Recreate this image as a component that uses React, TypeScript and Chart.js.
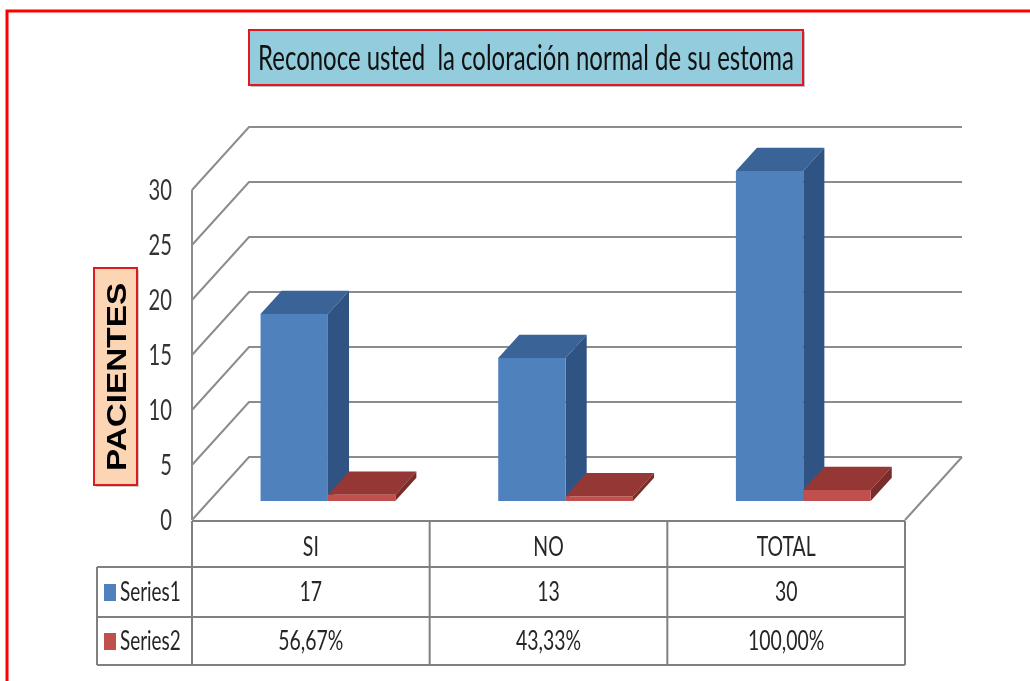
import React, { useEffect, useRef } from 'react';
import { Chart, registerables } from 'chart.js';

Chart.register(...registerables);

const CATEGORIES = ['SI', 'NO', 'TOTAL'];
const SERIES_NAMES = ['Series1', 'Series2'];
const SERIES1 = [17, 13, 30];
const SERIES2 = [0.5667, 0.4333, 1.0];
const Y_MIN = 0;
const Y_MAX = 30;
const Y_STEP = 5;
const TITLE = 'Reconoce usted  la coloración normal de su estoma';
const Y_TITLE = 'PACIENTES';

const FONT = 'Lato, "Open Sans", sans-serif';
const SX = 0.72; // horizontal text compression

const DEPTH = { dx: 57, dy: -63 };
const BAR_F0 = 0.3;
const BAR_F1 = 0.67;

const FACE_COLORS = [
  { front: '#4F81BD', top: '#3A6398', side: '#2F5382' },
  { front: '#C0504D', top: '#953735', side: '#792C2A' },
];

function fmtSeries(i: number, v: number) {
  if (i === 1) return (v * 100).toFixed(2).replace('.', ',') + '%';
  return String(v);
}

function text(ctx: CanvasRenderingContext2D, s: string, x: number, y: number, font: string, color: string, align: CanvasTextAlign, sx = SX) {
  ctx.save();
  ctx.font = font;
  ctx.fillStyle = color;
  ctx.textAlign = align;
  ctx.textBaseline = 'middle';
  ctx.translate(x, y);
  ctx.scale(sx, 1);
  ctx.fillText(s, 0, 0);
  ctx.restore();
}

function line(ctx: CanvasRenderingContext2D, pts: number[][]) {
  ctx.beginPath();
  ctx.moveTo(pts[0][0], pts[0][1]);
  for (let i = 1; i < pts.length; i++) ctx.lineTo(pts[i][0], pts[i][1]);
  ctx.stroke();
}

function poly(ctx: CanvasRenderingContext2D, pts: number[][], color: string) {
  ctx.beginPath();
  ctx.moveTo(pts[0][0], pts[0][1]);
  for (let i = 1; i < pts.length; i++) ctx.lineTo(pts[i][0], pts[i][1]);
  ctx.closePath();
  ctx.fillStyle = color;
  ctx.fill();
}

const decorPlugin = {
  id: 'decor3d',
  beforeDraw(chart: any) {
    const ctx: CanvasRenderingContext2D = chart.ctx;
    const ca = chart.chartArea;
    const y = chart.scales.y;
    ctx.save();
    ctx.fillStyle = '#ffffff';
    ctx.fillRect(0, 0, chart.width, chart.height);

    // outer red frame
    ctx.strokeStyle = '#FF0000';
    ctx.lineWidth = 3;
    ctx.strokeRect(7, 11, chart.width + 20, chart.height + 20);

    // title box
    ctx.fillStyle = 'rgba(0,0,0,0.25)';
    ctx.fillRect(251, 32, 554, 55);
    ctx.fillStyle = '#93CDDD';
    ctx.fillRect(249, 30, 554, 55);
    ctx.strokeStyle = '#E0191E';
    ctx.lineWidth = 2;
    ctx.strokeRect(249, 30, 554, 55);
    text(ctx, TITLE, 526, 59, '35px ' + FONT, '#111111', 'center', 0.685);

    // y title box
    ctx.fillStyle = 'rgba(0,0,0,0.2)';
    ctx.fillRect(96, 270, 43, 217);
    ctx.fillStyle = '#FCD5B5';
    ctx.fillRect(94, 268, 43, 217);
    ctx.strokeStyle = '#E0191E';
    ctx.lineWidth = 2;
    ctx.strokeRect(94, 268, 43, 217);
    ctx.save();
    ctx.translate(117, 377);
    ctx.rotate(-Math.PI / 2);
    ctx.scale(1.19, 1);
    ctx.font = 'bold 28px "Liberation Sans", Arial, sans-serif';
    ctx.fillStyle = '#000000';
    ctx.textAlign = 'center';
    ctx.textBaseline = 'middle';
    ctx.fillText(Y_TITLE, 0, 1);
    ctx.restore();

    // walls and gridlines
    ctx.strokeStyle = '#8C8C8C';
    ctx.lineWidth = 2;
    const ticks = y.ticks.map((t: any) => t.value);
    ticks.forEach((v: number) => {
      const yf = y.getPixelForValue(v);
      line(ctx, [[ca.left, yf], [ca.left + DEPTH.dx, yf + DEPTH.dy], [ca.right + DEPTH.dx, yf + DEPTH.dy]]);
    });
    const y0 = y.getPixelForValue(Y_MIN);
    const yMax = y.getPixelForValue(Y_MAX);
    line(ctx, [[ca.left, y0], [ca.left, yMax]]);
    line(ctx, [[ca.right, y0], [ca.right + DEPTH.dx, y0 + DEPTH.dy]]);

    // y tick labels
    ticks.forEach((v: number) => {
      text(ctx, String(v), ca.left - 20, y.getPixelForValue(v) + 1, '28px ' + FONT, '#333333', 'right');
    });
    ctx.restore();
  },
  afterDatasetsDraw(chart: any) {
    const ctx: CanvasRenderingContext2D = chart.ctx;
    const ca = chart.chartArea;
    const xs = chart.scales.x;
    ctx.save();

    // 3D bars
    const n = CATEGORIES.length;
    for (let j = 0; j < n; j++) {
      for (let i = 0; i < chart.data.datasets.length; i++) {
        const el = chart.getDatasetMeta(i).data[j];
        if (!el) continue;
        const c = FACE_COLORS[i];
        const ox = BAR_F0 * DEPTH.dx;
        const oy = BAR_F0 * DEPTH.dy;
        const bx = (BAR_F1 - BAR_F0) * DEPTH.dx;
        const by = (BAR_F1 - BAR_F0) * DEPTH.dy;
        const l = el.x - el.width / 2 + ox;
        const r = el.x + el.width / 2 + ox;
        const t = el.y + oy;
        const b = el.base + oy;
        poly(ctx, [[l, t], [r, t], [r + bx, t + by], [l + bx, t + by]], c.top);
        poly(ctx, [[r, t], [r, b], [r + bx, b + by], [r + bx, t + by]], c.side);
        poly(ctx, [[l, t], [r, t], [r, b], [l, b]], c.front);
      }
    }

    // data table
    const top = ca.bottom + 1;
    const rows = [top, top + 46, top + 96, top + 144];
    const legendLeft = 97;
    const catW = (ca.right - ca.left) / n;
    ctx.strokeStyle = '#808080';
    ctx.lineWidth = 2;
    line(ctx, [[ca.left, rows[0]], [ca.right, rows[0]]]);
    for (let k = 1; k < rows.length; k++) line(ctx, [[legendLeft, rows[k]], [ca.right, rows[k]]]);
    line(ctx, [[legendLeft, rows[1]], [legendLeft, rows[3]]]);
    for (let j = 0; j <= n; j++) {
      const xx = ca.left + catW * j;
      line(ctx, [[xx, rows[0]], [xx, rows[3]]]);
    }
    const tf = '27px ' + FONT;
    for (let j = 0; j < n; j++) {
      const cx = xs.getPixelForValue(j);
      text(ctx, CATEGORIES[j], cx, (rows[0] + rows[1]) / 2 + 3, tf, '#262626', 'center');
      chart.data.datasets.forEach((ds: any, i: number) => {
        text(ctx, fmtSeries(i, ds.data[j]), cx, (rows[i + 1] + rows[i + 2]) / 2, tf, '#262626', 'center');
      });
    }
    chart.data.datasets.forEach((ds: any, i: number) => {
      const cy = (rows[i + 1] + rows[i + 2]) / 2;
      ctx.fillStyle = FACE_COLORS[i].front;
      ctx.fillRect(104, cy - 8, 12, 17);
      text(ctx, ds.label, 120, cy, tf, '#262626', 'left', 0.7);
    });
    ctx.restore();
  },
};

export default function App() {
  const ref = useRef<HTMLCanvasElement | null>(null);
  useEffect(() => {
    if (!ref.current) return;
    const chart = new Chart(ref.current, {
      type: 'bar',
      data: {
        labels: CATEGORIES,
        datasets: [
          { label: SERIES_NAMES[0], data: SERIES1, backgroundColor: 'rgba(0,0,0,0)', borderWidth: 0 },
          { label: SERIES_NAMES[1], data: SERIES2, backgroundColor: 'rgba(0,0,0,0)', borderWidth: 0 },
        ],
      },
      options: {
        responsive: false,
        animation: false,
        events: [],
        layout: { padding: { left: 192, right: 125, top: 190, bottom: 161 } },
        datasets: { bar: { categoryPercentage: 0.567, barPercentage: 1 } },
        scales: {
          x: { display: false, offset: true },
          y: { display: false, min: Y_MIN, max: Y_MAX, ticks: { stepSize: Y_STEP } },
        },
        plugins: { legend: { display: false }, tooltip: { enabled: false }, title: { display: false } },
      },
      plugins: [decorPlugin],
    });
    return () => chart.destroy();
  }, []);
  return (
    <div style={{ position: 'fixed', left: 0, top: 0, width: 1030, height: 681, background: '#fff' }}>
      <canvas ref={ref} width={1030} height={681} />
    </div>
  );
}
